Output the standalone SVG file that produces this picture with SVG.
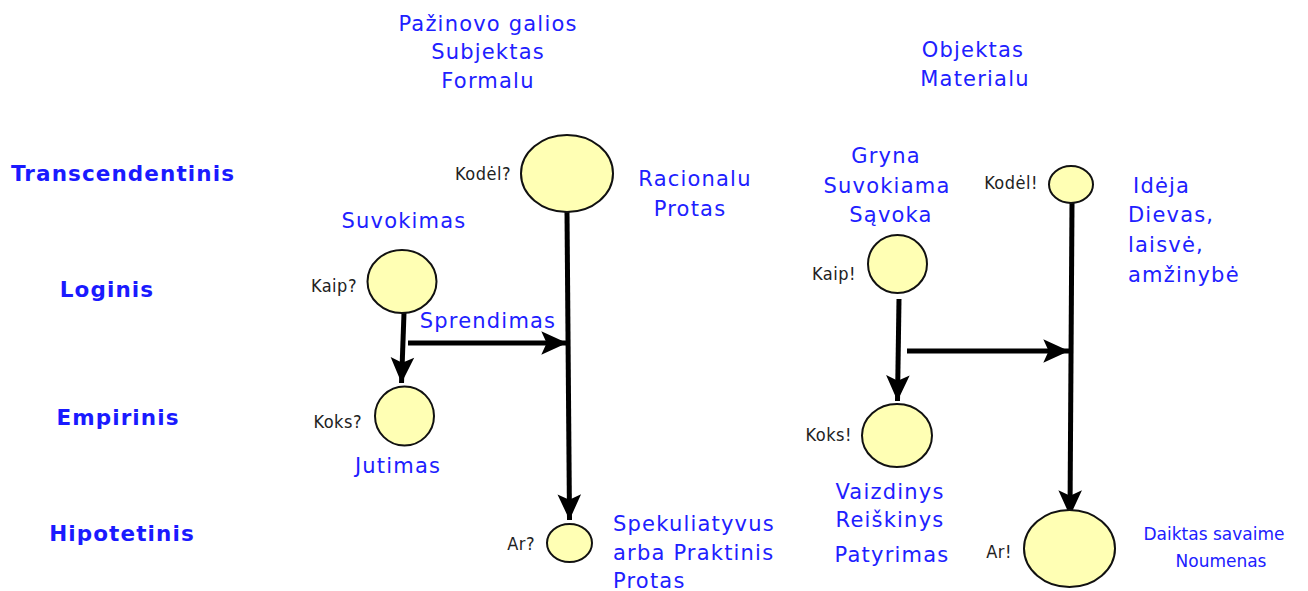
<svg xmlns="http://www.w3.org/2000/svg" width="1308" height="591" viewBox="0 0 1308 591">
<style>
.b{font-family:"DejaVu Sans",sans-serif;font-size:21px;letter-spacing:1.2px;fill:#2020ff}
.h{font-family:"DejaVu Sans",sans-serif;font-size:21.5px;letter-spacing:1.1px;font-weight:bold;fill:#1a1aff}
.s{font-family:"DejaVu Sans Condensed","DejaVu Sans",sans-serif;font-size:18px;letter-spacing:0.5px;fill:#222}
.m{text-anchor:middle}
.e{text-anchor:end}
.n{fill:#ffffb4;stroke:#111;stroke-width:2}
.c{fill:none;stroke:#000;stroke-width:5}
</style>
<defs>
<marker id="ar" markerUnits="userSpaceOnUse" markerWidth="30" markerHeight="30" refX="0" refY="0" viewBox="-26 -13 28 26" orient="auto" overflow="visible">
<path d="M0,0 L-24,-11 L-19,0 L-24,11 Z" fill="#000"/>
</marker>
</defs>
<rect width="1308" height="591" fill="#fff"/>
<g id="headers">
<text class="h m" x="123" y="181">Transcendentinis</text>
<text class="h m" x="107" y="297">Loginis</text>
<text class="h m" x="118" y="425">Empirinis</text>
<text class="h m" x="122" y="541">Hipotetinis</text>
<text class="b m" x="488" y="31">Pažinovo galios</text>
<text class="b m" x="488" y="59">Subjektas</text>
<text class="b m" x="488" y="88">Formalu</text>
<text class="b m" x="973" y="57">Objektas</text>
<text class="b m" x="975" y="86">Materialu</text>
</g>
<g id="connectors">
<path class="c" d="M567,212 L569.5,520" marker-end="url(#ar)"/>
<path class="c" d="M404,313 L401.5,383" marker-end="url(#ar)"/>
<path class="c" d="M408,343 L567,343" marker-end="url(#ar)"/>
<path class="c" d="M1072,203 L1070,516" marker-end="url(#ar)"/>
<path class="c" d="M899,299 L897.5,401" marker-end="url(#ar)"/>
<path class="c" d="M907,351 L1069,351" marker-end="url(#ar)"/>
</g>
<g id="n-kodel-q"><ellipse class="n" cx="567" cy="173.5" rx="46" ry="38.5"/><text class="s e" x="511" y="180">Kodėl?</text>
<text class="b m" x="695" y="186">Racionalu</text><text class="b m" x="690" y="216">Protas</text></g>
<g id="n-kaip-q"><ellipse class="n" cx="402" cy="281.5" rx="34.5" ry="31.5"/><text class="s e" x="357" y="292">Kaip?</text>
<text class="b m" x="404" y="228">Suvokimas</text></g>
<g id="n-sprendimas"><text class="b m" x="488" y="328">Sprendimas</text></g>
<g id="n-koks-q"><ellipse class="n" cx="404.5" cy="416" rx="29.5" ry="29.5"/><text class="s e" x="362" y="428">Koks?</text>
<text class="b m" x="398" y="473">Jutimas</text></g>
<g id="n-ar-q"><ellipse class="n" cx="569.5" cy="543" rx="22.5" ry="19"/><text class="s e" x="535" y="550">Ar?</text>
<text class="b" x="613" y="531">Spekuliatyvus</text><text class="b" x="613" y="560">arba Praktinis</text><text class="b" x="613" y="588">Protas</text></g>
<g id="n-kaip-x"><ellipse class="n" cx="897.5" cy="264" rx="29.5" ry="29"/><text class="s e" x="856" y="280">Kaip!</text>
<text class="b m" x="886" y="163">Gryna</text><text class="b m" x="887" y="193">Suvokiama</text><text class="b m" x="891" y="222">Sąvoka</text></g>
<g id="n-kodel-x"><ellipse class="n" cx="1071" cy="184.5" rx="22" ry="18.5"/><text class="s e" x="1038" y="189">Kodėl!</text>
<text class="b" x="1133" y="193">Idėja</text><text class="b" x="1128" y="222">Dievas,</text><text class="b" x="1128" y="252">laisvė,</text><text class="b" x="1128" y="282">amžinybė</text></g>
<g id="n-koks-x"><ellipse class="n" cx="897" cy="435.5" rx="35" ry="31.5"/><text class="s e" x="852" y="441">Koks!</text>
<text class="b m" x="890" y="499">Vaizdinys</text><text class="b m" x="890" y="527">Reiškinys</text><text class="b m" x="892" y="562">Patyrimas</text></g>
<g id="n-ar-x"><ellipse class="n" cx="1069.5" cy="548.5" rx="45.5" ry="38.5"/><text class="s e" x="1012" y="558">Ar!</text>
<text class="b m" x="1214" y="540" style="font-size:17px;letter-spacing:0">Daiktas savaime</text><text class="b m" x="1221" y="567" style="font-size:17px;letter-spacing:0">Noumenas</text></g>
</svg>
